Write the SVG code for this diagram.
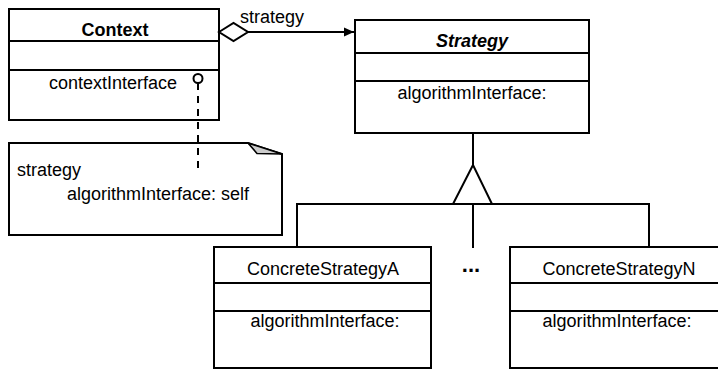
<svg xmlns="http://www.w3.org/2000/svg" width="718" height="370" viewBox="0 0 718 370">
  <style>
    .box { fill: #fff; stroke: #000; stroke-width: 2; }
    .div { stroke: #000; stroke-width: 2; }
    .ln { fill: none; stroke: #000; stroke-width: 2; }
    text { font-family: "Liberation Sans", Arial, sans-serif; font-size: 18px; fill: #000; }
    .c { text-anchor: middle; }
    .b { font-weight: bold; }
    .bi { font-weight: bold; font-style: italic; }
  </style>
  <defs>
    <marker id="arrow" viewBox="0 0 10 10" refX="10" refY="5" markerWidth="10" markerHeight="10" markerUnits="userSpaceOnUse" orient="auto">
      <path d="M0,0.5 L10,5 L0,9.5 z" fill="#000"/>
    </marker>
  </defs>
  <rect width="718" height="370" fill="#fff"/>

  <g id="context">
    <rect x="9" y="9" width="210" height="111" class="box"/>
    <line x1="9" y1="41" x2="219" y2="41" class="div"/>
    <line x1="9" y1="70" x2="219" y2="70" class="div"/>
    <text x="115" y="36" class="c b">Context</text>
    <text x="49" y="89">contextInterface</text>
  </g>

  <g id="note">
    <path d="M9,143 L248,143 L282,154 L282,235 L9,235 Z" fill="#fff" stroke="#000" stroke-width="2"/>
    <polygon points="248,143 257,153.5 282,154" fill="#ccc" stroke="#000" stroke-width="1.6" stroke-linejoin="round"/>
    <text x="17" y="176">strategy</text>
    <text x="67" y="200">algorithmInterface: self</text>
  </g>

  <g id="strategy">
    <rect x="355" y="20" width="234" height="113" class="box"/>
    <line x1="355" y1="53" x2="589" y2="53" class="div"/>
    <line x1="355" y1="81" x2="589" y2="81" class="div"/>
    <text x="472" y="47" class="c bi">Strategy</text>
    <text x="472" y="99" class="c">algorithmInterface:</text>
  </g>

  <g id="concreteStrategyA">
    <rect x="214" y="247" width="217" height="121" class="box"/>
    <line x1="214" y1="283" x2="431" y2="283" class="div"/>
    <line x1="214" y1="311" x2="431" y2="311" class="div"/>
    <text x="323" y="275" class="c">ConcreteStrategyA</text>
    <text x="325" y="327" class="c">algorithmInterface:</text>
  </g>

  <g id="concreteStrategyN">
    <rect x="510" y="247" width="217" height="121" class="box"/>
    <line x1="510" y1="283" x2="727" y2="283" class="div"/>
    <line x1="510" y1="311" x2="727" y2="311" class="div"/>
    <text x="619" y="275" class="c">ConcreteStrategyN</text>
    <text x="617" y="327" class="c">algorithmInterface:</text>
  </g>

  <g id="connectors">
    <!-- aggregation: Context holds a Strategy -->
    <polygon points="219,32 233.5,23 248,32 233.5,41" fill="#fff" stroke="#000" stroke-width="2"/>
    <line x1="248" y1="32" x2="354" y2="32" class="ln" marker-end="url(#arrow)"/>
    <text x="240" y="23">strategy</text>
    <!-- note attached to contextInterface -->
    <circle cx="198" cy="78.5" r="4.5" fill="#fff" stroke="#000" stroke-width="2"/>
    <line x1="198" y1="83" x2="198" y2="170" stroke="#000" stroke-width="2" stroke-dasharray="7,6"/>
    <!-- generalization -->
    <line x1="473" y1="133" x2="473" y2="165" class="ln"/>
    <polygon points="473,165 453,204 492,204" fill="#fff" stroke="#000" stroke-width="2"/>
    <polyline points="297,247 297,204 649,204 649,247" class="ln"/>
    <line x1="473" y1="204" x2="473" y2="248" class="ln"/>
    <text x="471" y="272" class="c b" style="font-size:22px">...</text>
  </g>
</svg>
